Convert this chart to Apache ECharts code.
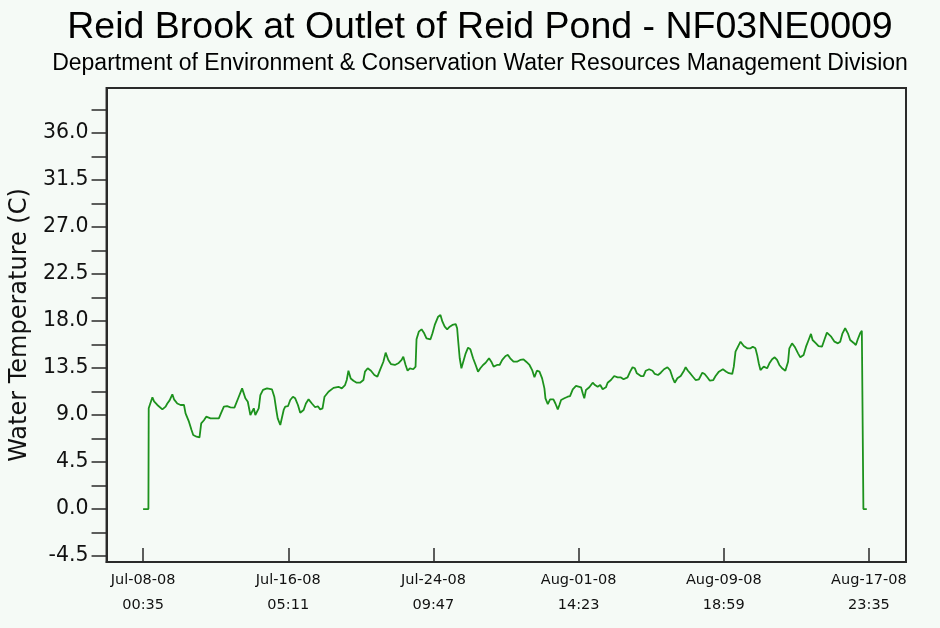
<!DOCTYPE html>
<html><head><meta charset="utf-8">
<script src="https://cdn.jsdelivr.net/npm/echarts@6/dist/echarts.min.js"></script>
<style>html,body{margin:0;padding:0;background:#f5faf6}#c{width:940px;height:628px}</style>
</head><body><div id="c"></div>
<script>
// ---- data ----
const chartTitle = 'Reid Brook at Outlet of Reid Pond - NF03NE0009';
const chartSubtitle = 'Department of Environment & Conservation Water Resources Management Division';
const yAxisName = 'Water Temperature (C)';
const startStamp = '2008-07-08 00:35';
const xTickLabels = ['Jul-08-08 00:35','Jul-16-08 05:11','Jul-24-08 09:47','Aug-01-08 14:23','Aug-09-08 18:59','Aug-17-08 23:35'];
const yTickLabels = ['-4.5','0.0','4.5','9.0','13.5','18.0','22.5','27.0','31.5','36.0'];
// hours elapsed since startStamp
const hoursSinceStart = [
0,7.2,7.6,9.45,12.6,14.85,19.3,26.1,30.5,32.8,35.9,39.6,41.9,46.3,50.8,55.4,57.5,62.1,65.6,67.9,72.4,76.4,78.7,82.4,85.5,87.8,91.3,102.6,105.7,109.4,113.8,118.3,123.7,126.4,129.6,134.1,136.4,138.5,141.8,145.3,147.6,149.9,152.0,154.3,156.6,158.8,162.4,167.8,174.6,177.7,180.4,182.3,185.8,188.1,
190.4,192.5,196.2,199.3,202.9,206.0,209.7,212.8,217.4,220.5,224.1,228.6,233.0,236.7,239.8,243.0,245.7,251.1,257.9,264.6,269.1,273.5,275.8,278.1,281.2,284.9,289.3,293.8,298.4,300.5,304.2,308.6,313.2,317.3,320.8,325.4,328.5,332.1,335.6,341.0,345.6,350.1,352.4,355.5,358.2,361.3,365.9,369.0,370.3,373.4,377.1,380.7,383.8,
389.2,391.9,395.0,399.6,402.7,405.4,408.5,411.8,415.3,418.9,423.4,425.3,426.6,428.8,431.1,433.4,436.9,440.1,443.2,446.9,450.4,453.6,456.7,460.4,463.9,468.5,471.6,474.7,479.3,482.8,486.4,490.9,494.1,497.2,501.7,506.3,510.7,515.2,518.8,523.3,526.9,530.0,533.3,536.8,540.4,543.5,544.9,548.1,551.2,555.7,558.4,561.6,563.8,566.1,570.5,575.1,578.2,581.9,586.3,
588.6,593.1,595.4,597.5,599.8,604.3,608.9,612.0,615.6,619.1,622.4,626.8,629.1,633.6,638.0,642.6,647.1,650.7,656.1,659.6,662.9,666.0,668.7,674.1,677.7,680.8,685.3,689.9,693.0,697.4,701.1,705.5,710.1,713.6,716.9,720.0,723.6,728.1,732.5,734.8,737.9,741.6,745.2,748.3,752.8,757.4,760.5,764.1,767.6,772.2,775.3,
779.8,785.2,789.8,793.3,797.9,800.0,802.3,806.0,809.1,813.5,818.1,822.6,825.7,829.3,831.6,833.8,836.1,840.5,845.1,848.2,851.9,855.4,858.6,861.7,865.4,869.8,873.5,875.2,878.9,882.4,887.0,890.1,894.5,897.8,901.3,904.5,906.7,911.3,914.8,919.4,922.9,926.1,928.3,931.9,936.4,941.0,944.1,947.2,950.8,954.5,957.6,962.0,965.3,967.9,971.1,973.4,975.1,975.5,980.1
];
const waterTemp = [
0,0,9.64,9.8,10.7,10.3,9.96,9.54,9.8,10.1,10.4,10.98,10.5,10.1,9.96,9.96,9.16,8.36,7.56,7.09,6.92,6.86,8.2,8.5,8.84,8.84,8.68,8.68,9.2,9.8,9.84,9.74,9.7,9.8,10.75,11.55,11.4,10.6,10.27,9.0,8.84,9.64,9.0,8.84,9.64,10.9,11.4,11.55,11.45,10.75,9.48,8.68,8.04,8.1,
9.48,9.8,9.84,10.44,10.75,10.6,9.96,9.22,9.48,10.1,10.5,10.1,9.74,9.84,9.54,9.64,10.75,11.23,11.6,11.7,11.55,11.87,12.35,13.24,12.5,12.28,12.09,12.09,12.35,13.15,13.47,13.24,12.83,12.67,13.3,14.1,14.97,14.27,13.88,13.79,13.95,14.27,14.58,13.79,13.24,13.47,13.38,13.63,16.25,16.98,17.2,16.82,16.34,
16.25,16.82,17.62,18.41,18.57,17.93,17.45,17.2,17.45,17.62,17.7,17.3,16.18,14.43,13.47,13.63,14.9,15.45,15.3,14.43,13.79,13.15,13.47,13.79,14.0,14.43,14.1,13.63,13.79,13.79,14.27,14.65,14.75,14.43,14.1,14.1,14.27,14.33,14.1,13.79,13.3,12.61,13.24,13.15,12.51,11.55,10.6,10.05,10.5,10.5,10.1,9.54,9.96,10.44,10.6,10.75,10.8,11.46,11.78,
11.87,11.65,11.08,10.6,11.4,11.65,12.09,11.87,11.7,11.87,11.46,11.65,12.09,12.35,12.73,12.6,12.6,12.42,12.6,13.15,13.57,13.47,12.99,12.73,12.73,13.24,13.38,13.24,12.93,12.83,13.05,13.38,13.57,13.3,12.61,12.09,12.51,12.73,13.24,13.57,13.24,12.93,12.61,12.35,12.42,13.05,12.93,12.61,12.28,12.35,12.73,
13.15,13.38,13.15,13.0,12.93,13.63,15.06,15.6,16.02,15.6,15.38,15.38,15.54,15.38,14.75,13.95,13.3,13.63,13.47,13.95,14.33,14.52,14.27,13.79,13.47,13.24,14.1,15.38,15.86,15.54,14.9,14.52,14.75,15.54,16.18,16.76,16.18,15.86,15.6,15.54,16.25,16.88,16.98,16.5,16.02,15.86,16.02,16.82,17.3,16.82,16.18,15.92,15.7,16.25,16.82,17.07,16.98,0,0
];

// ---- helpers ----
const MONTHS = {Jan:0,Feb:1,Mar:2,Apr:3,May:4,Jun:5,Jul:6,Aug:7,Sep:8,Oct:9,Nov:10,Dec:11};
function parseIso(s){ const [d,t]=s.split(' '); const [Y,M,D]=d.split('-').map(Number); const [h,m]=t.split(':').map(Number); return Date.UTC(Y,M-1,D,h,m); }
function parseTick(s){ const [d,t]=s.split(' '); const [mon,dd,yy]=d.split('-'); const [h,m]=t.split(':').map(Number); return Date.UTC(2000+Number(yy),MONTHS[mon],Number(dd),h,m); }
const HOUR = 3600000;
const t0 = parseIso(startStamp);
const xTickValues = xTickLabels.map(parseTick);
const yTickValues = yTickLabels.map(Number);
const yStep = yTickValues[1]-yTickValues[0];
const yMinorValues = [];
yTickValues.forEach(v=>{ yMinorValues.push(v); yMinorValues.push(v + yStep/2); });

const seriesData = hoursSinceStart.map((h,i)=>[t0 + h*HOUR, waterTemp[i]]);

const TITLE_FONT = '"Liberation Sans", Arial, sans-serif';
const AXIS_FONT = '"DejaVu Sans", sans-serif';
const AXIS_COLOR = '#2a2a2a';
const chart = echarts.init(document.getElementById('c'), null, {renderer:'canvas'});
chart.setOption({
  animation:false,
  backgroundColor:'#f5faf6',
  graphic:[
    {type:'text', x:480, y:9, style:{text:chartTitle, font:'normal 37.5px '+TITLE_FONT, fill:'#000', textAlign:'center', textVerticalAlign:'top'}},
    {type:'text', x:480, y:52, style:{text:chartSubtitle, font:'normal 23px '+TITLE_FONT, fill:'#000', textAlign:'center', textVerticalAlign:'top'}}
  ],
  grid:{left:104,right:34,top:88,bottom:66,show:true,borderColor:AXIS_COLOR,borderWidth:2,backgroundColor:'transparent'},
  xAxis:{
    type:'value',
    min:t0 - 49.5*HOUR, max:t0 + 1033.2*HOUR,
    axisLine:{show:true,onZero:false,lineStyle:{color:AXIS_COLOR,width:2}},
    axisTick:{show:true,inside:true,length:14,customValues:xTickValues,lineStyle:{color:AXIS_COLOR,width:1.5}},
    axisLabel:{show:true,customValues:xTickValues,margin:6,fontFamily:AXIS_FONT,fontSize:14.5,lineHeight:25,color:'#111',
      formatter:function(v){ let best=0,bd=Infinity; xTickValues.forEach((tv,i)=>{const d=Math.abs(tv-v); if(d<bd){bd=d;best=i;}}); return xTickLabels[best].replace(' ','\n'); }},
    splitLine:{show:false}
  },
  yAxis:{
    type:'value',
    min:-5.07, max:40.3,
    name:yAxisName, nameLocation:'middle', nameGap:70, nameRotate:90,
    nameTextStyle:{fontFamily:AXIS_FONT,fontSize:24,color:'#111'},
    axisLine:{show:true,lineStyle:{color:AXIS_COLOR,width:2}},
    axisTick:{show:true,inside:false,length:15,customValues:yMinorValues.filter(v=>v<=40.3),lineStyle:{color:AXIS_COLOR,width:1.5}},
    axisLabel:{show:true,customValues:yTickValues,margin:18,fontFamily:AXIS_FONT,fontSize:20.5,color:'#111',
      formatter:function(v){ let best=0,bd=Infinity; yTickValues.forEach((tv,i)=>{const d=Math.abs(tv-v); if(d<bd){bd=d;best=i;}}); return yTickLabels[best]; }},
    splitLine:{show:false}
  },
  series:[{
    type:'line', data:seriesData, showSymbol:false, symbol:'none',
    lineStyle:{color:'#1d921d',width:1.8}, itemStyle:{color:'#1d921d'}
  }]
});
</script></body></html>
